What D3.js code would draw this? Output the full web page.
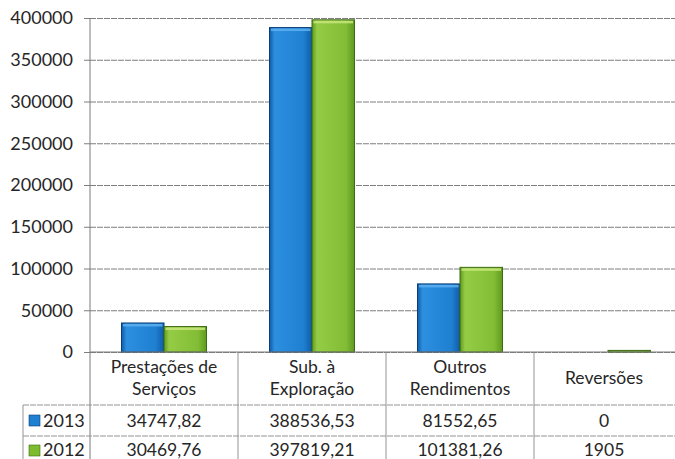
<!DOCTYPE html>
<html>
<head>
<meta charset="utf-8">
<script src="https://cdn.jsdelivr.net/npm/d3@7"></script>
<style>
  body { margin: 0; background: #fff; }
  text { font-family: Lato, "Open Sans", sans-serif; fill: #262626; }
</style>
</head>
<body>
<div id="chart"></div>
<script>
// chart data
var categories = [["Prestações de", "Serviços"], ["Sub. à", "Exploração"], ["Outros", "Rendimentos"], ["Reversões"]];
var seriesNames = ["2013", "2012"];
var values2013 = [34747.82, 388536.53, 81552.65, 0];
var values2012 = [30469.76, 397819.21, 101381.26, 1905];
var yTicks = [0, 50000, 100000, 150000, 200000, 250000, 300000, 350000, 400000];

var svgWidth = 675;
var svgHeight = 459;

var margin = { top: 18, left: 90 };
var plotRight = 682;
var baseY = 352;

var svg = d3.select("#chart")
  .append("svg")
  .attr("width", svgWidth)
  .attr("height", svgHeight);

var defs = svg.append("defs");
function barGradient(id, dark, mid, light) {
  var g = defs.append("linearGradient").attr("id", id)
    .attr("x1", "0").attr("x2", "1").attr("y1", "0").attr("y2", "0");
  g.append("stop").attr("offset", "0%").attr("stop-color", dark);
  g.append("stop").attr("offset", "12%").attr("stop-color", light);
  g.append("stop").attr("offset", "80%").attr("stop-color", mid);
  g.append("stop").attr("offset", "100%").attr("stop-color", dark);
}
barGradient("gBlue", "#0f5ca8", "#1f80d2", "#2d8fe0");
barGradient("gGreen", "#5e9a1e", "#82bd35", "#95cc45");

var colors = ["url(#gBlue)", "url(#gGreen)"];
var strokes = ["#0b3f75", "#3d6b12"];
var tops = ["#5aaeee", "#c4e479"];
var legendColors = ["#1f7fd0", "#7dbb2f"];

var xScale = d3.scaleBand()
  .domain(d3.range(categories.length))
  .range([margin.left, plotRight]);

var yScale = d3.scaleLinear()
  .domain([0, 400000])
  .range([baseY, margin.top]);

var xSub = d3.scaleBand()
  .domain(d3.range(seriesNames.length))
  .range([0, 85]);

// gridlines
svg.append("g")
  .attr("transform", "translate(" + margin.left + ",0)")
  .call(d3.axisLeft(yScale).tickValues(yTicks).tickSize(-(plotRight - margin.left)).tickFormat(""))
  .call(g => g.select(".domain").remove())
  .call(g => g.selectAll("line").attr("stroke", "#7e7e7e").attr("stroke-dasharray", "6,1"));

// y axis with labels
svg.append("g")
  .attr("transform", "translate(" + margin.left + ",0)")
  .call(d3.axisLeft(yScale).tickValues(yTicks).tickSizeInner(6).tickSizeOuter(0).tickPadding(11).tickFormat(d3.format("d")))
  .call(g => g.select(".domain").remove())
  .call(g => g.selectAll("line").attr("stroke", "#7e7e7e"))
  .call(g => g.selectAll("text").attr("font-size", "18px").attr("fill", "#262626").attr("font-family", "Lato, sans-serif"));

// bars
var seriesValues = [values2013, values2012];
seriesValues.forEach(function(vals, s) {
  var off = (xScale.bandwidth() - 85) / 2;
  var grp = svg.append("g");
  grp.selectAll("rect.bar")
    .data(vals)
    .enter()
    .append("rect")
    .attr("class", "bar")
    .attr("x", (d, i) => xScale(i) + off + xSub(s))
    .attr("y", d => yScale(d))
    .attr("width", xSub.bandwidth())
    .attr("height", d => baseY - yScale(d))
    .attr("fill", colors[s])
    .attr("stroke", strokes[s])
    .attr("stroke-width", 1);
  grp.selectAll("rect.top")
    .data(vals.filter(d => baseY - yScale(d) > 5).map(d => [d, vals.indexOf(d)]))
    .enter()
    .append("rect")
    .attr("x", d => xScale(d[1]) + off + xSub(s) + 1.5)
    .attr("y", d => yScale(d[0]) + 1)
    .attr("width", xSub.bandwidth() - 3)
    .attr("height", 2.5)
    .attr("fill", tops[s])
    .attr("opacity", 0.9);
});

// axis line
svg.append("line")
  .attr("x1", margin.left).attr("x2", margin.left)
  .attr("y1", margin.top).attr("y2", svgHeight)
  .attr("stroke", "#7a7a7a");

// data table
var rowTop = 405;
var rowH = 31;
var tableLeft = 23;
var tableLine = "#949494";

svg.append("line")
  .attr("x1", margin.left).attr("x2", plotRight)
  .attr("y1", baseY).attr("y2", baseY)
  .attr("stroke", "#7a7a7a");

d3.range(1, categories.length).forEach(function(i) {
  svg.append("line")
    .attr("x1", xScale(i)).attr("x2", xScale(i))
    .attr("y1", baseY).attr("y2", svgHeight)
    .attr("stroke", tableLine);
});
[rowTop, rowTop + rowH].forEach(function(y) {
  svg.append("line")
    .attr("x1", tableLeft).attr("x2", plotRight)
    .attr("y1", y).attr("y2", y)
    .attr("stroke", tableLine).attr("stroke-dasharray", "6,1");
});
svg.append("line")
  .attr("x1", tableLeft).attr("x2", tableLeft)
  .attr("y1", rowTop).attr("y2", svgHeight)
  .attr("stroke", tableLine);

// category headers
var header = svg.append("g").selectAll("text")
  .data(categories)
  .enter()
  .append("text")
  .attr("text-anchor", "middle")
  .attr("font-size", "17.5px")
  .attr("x", (d, i) => xScale(i) + xScale.bandwidth() / 2 - (i === 3 ? 4 : 0))
  .attr("y", d => d.length === 1 ? 384 : 373);
header.selectAll("tspan")
  .data(d => d)
  .enter()
  .append("tspan")
  .attr("x", function() { return d3.select(this.parentNode).attr("x"); })
  .attr("dy", (d, j) => j === 0 ? 0 : 22)
  .text(d => d);

// number format with comma decimals
var fmt = function(v) {
  return Number.isInteger(v) ? String(v) : v.toFixed(2).replace(".", ",");
};

seriesValues.forEach(function(vals, s) {
  var y = rowTop + s * rowH;
  svg.append("rect")
    .attr("x", 29).attr("y", y + 10 - s)
    .attr("width", 11).attr("height", 11)
    .attr("fill", legendColors[s])
    .attr("stroke", strokes[s]).attr("stroke-width", 0.6);
  svg.append("text")
    .attr("x", 43).attr("y", y + 22 - s * 2)
    .attr("font-size", "18px")
    .text(seriesNames[s]);
  svg.append("g").selectAll("text")
    .data(vals)
    .enter()
    .append("text")
    .attr("text-anchor", "middle")
    .attr("font-size", "17.5px")
    .attr("x", (d, i) => xScale(i) + xScale.bandwidth() / 2 - (i === 3 ? 4 : 0))
    .attr("y", y + 22 - s * 2)
    .text(d => fmt(d));
});
</script>
</body>
</html>
